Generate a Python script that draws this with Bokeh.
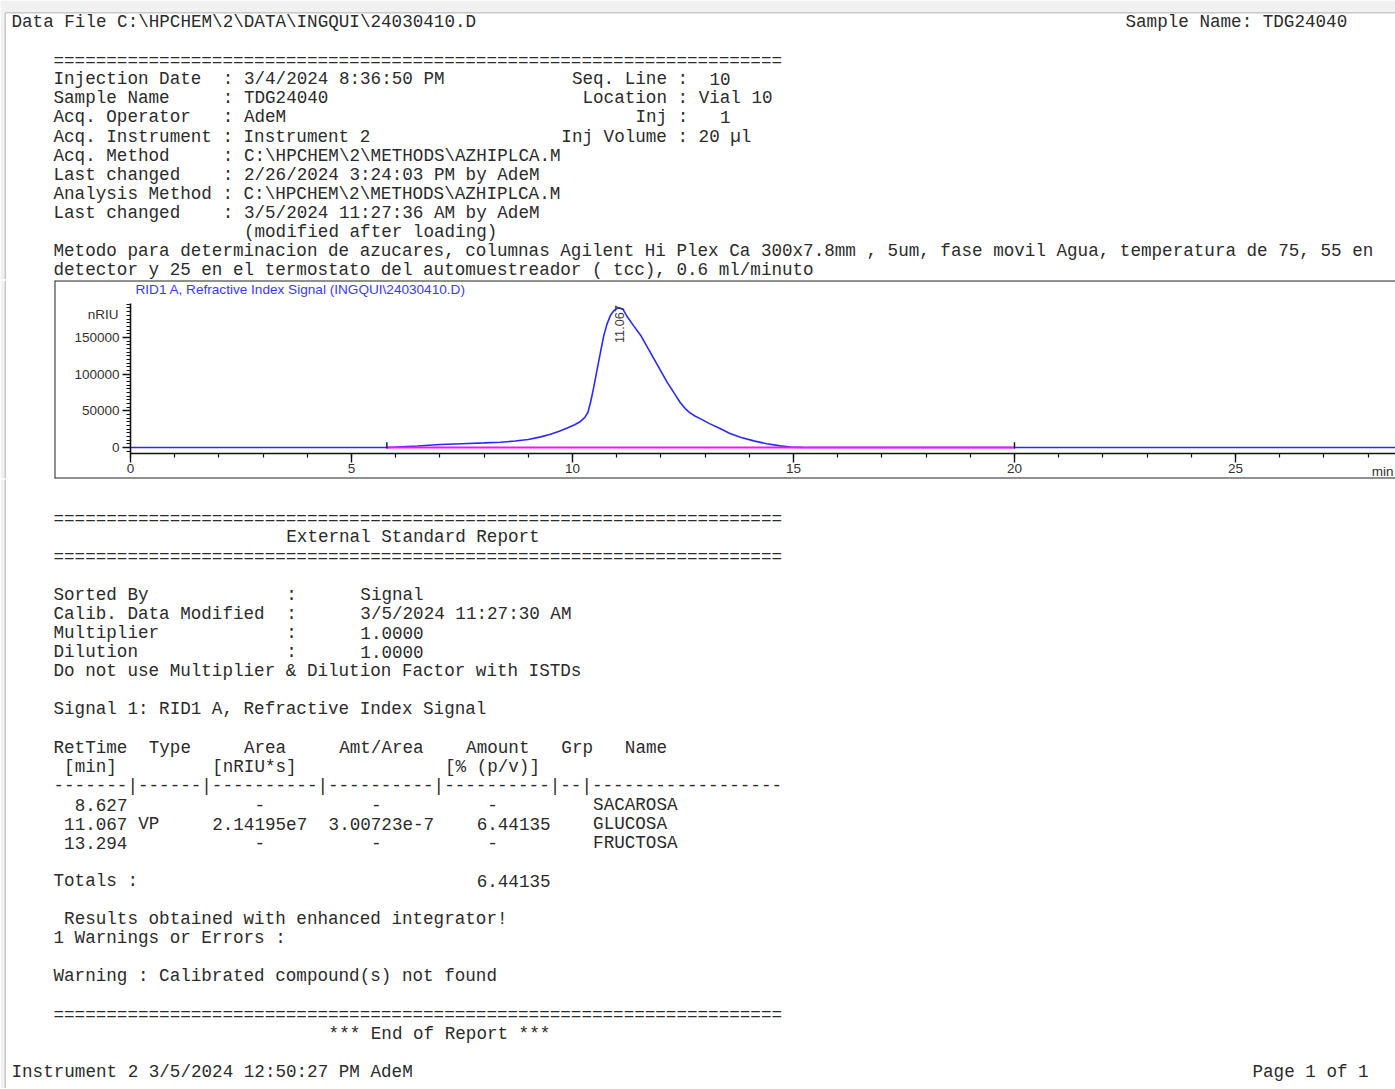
import re
import math
from bokeh.plotting import figure
from bokeh.models import (Range1d, SingleIntervalTicker, Span, Label,
                          BasicTickFormatter)
from bokeh.layouts import column, row
from bokeh.embed import file_html
from bokeh.resources import INLINE
from bokeh.core.properties import value

# ---------------- report data ----------------
data_file = r"C:\HPCHEM\2\DATA\INGQUI\24030410.D"
sample_name = "TDG24040"
injection_date = "3/4/2024 8:36:50 PM"
operator = "AdeM"
instrument = "Instrument 2"
acq_method = r"C:\HPCHEM\2\METHODS\AZHIPLCA.M"
acq_changed = "2/26/2024 3:24:03 PM by AdeM"
analysis_method = r"C:\HPCHEM\2\METHODS\AZHIPLCA.M"
analysis_changed = "3/5/2024 11:27:36 AM by AdeM"
seq_line = "10"
location = "Vial 10"
inj = "1"
inj_volume = "20 µl"
method_note_1 = ("Metodo para determinacion de azucares, columnas Agilent Hi Plex Ca 300x7.8mm , "
                 "5um, fase movil Agua, temperatura de 75, 55 en")
method_note_2 = "detector y 25 en el termostato del automuestreador ( tcc), 0.6 ml/minuto"

calib_modified = "3/5/2024 11:27:30 AM"
multiplier = "1.0000"
dilution = "1.0000"

# peak table
ret_times = ["8.627", "11.067", "13.294"]
peak_types = ["", "VP", ""]
areas = ["-", "2.14195e7", "-"]
amt_per_area = ["-", "3.00723e-7", "-"]
amounts = ["-", "6.44135", "-"]
compound_names = ["SACAROSA", "GLUCOSA", "FRUCTOSA"]
total_amount = "6.44135"
printed = "Instrument 2 3/5/2024 12:50:27 PM AdeM"
signal_title = "RID1 A, Refractive Index Signal (INGQUI\\24030410.D)"
y_unit = "nRIU"
x_unit = "min"

# chromatogram (RID1 A, nRIU vs min)
time_min = [0, 4.4, 5.8, 6.0, 6.5, 7.0, 7.5, 8.0, 8.37, 8.7, 9.0, 9.28, 9.5, 9.7,
            9.88, 10.05, 10.18, 10.28, 10.35, 10.41, 10.48, 10.56, 10.64, 10.71,
            10.78, 10.86, 10.94, 11.01, 11.07, 11.14, 11.24, 11.38, 11.54, 11.69,
            11.84, 11.99, 12.14, 12.3, 12.44, 12.55, 12.65, 12.78, 12.9, 13.1,
            13.35, 13.55, 13.8, 14.1, 14.4, 14.7, 14.93, 15.2, 15.5, 17.0, 20.0,
            25.0, 30.0]
signal_nriu = [0, 0, 0, 500, 2000, 4100, 5200, 6300, 7200, 8800, 11000, 14500, 18000,
               22000, 26500, 31000, 35500, 41000, 48000, 62000, 82000, 107000,
               132000, 153000, 168000, 180000, 186500, 189500, 190000, 188500,
               178000, 166000, 153000, 137000, 121000, 105000, 89000, 74000, 61000,
               53000, 47500, 42500, 39000, 32500, 25500, 19500, 14000, 9000, 5000,
               2200, 500, 150, 0, 0, 0, 0, 0]
baseline_start = 5.8
baseline_end = 20.0
peak_rt = 11.067

# ---------------- styling ----------------
MONO = "Liberation Mono"
SANS = "Liberation Sans"
CW = 10.58          # monospace character advance (px)
X0 = 53             # left text column (px)
TXT = "#2b2b2b"
W = 1395
PAGE_BG = "#f1f1f1"
PAGE_EDGE = "#c8c8c8"


def seg_collect(store, line, y, x0=X0):
    """Split a fixed-width line into runs and place each at its column."""
    for m in re.finditer(r"\S+(?: \S+)*", line):
        store["x"].append(x0 + m.start() * CW)
        store["y"].append(y)
        store["t"].append(m.group(0))


def text_fig(width, y_top, y_bot):
    p = figure(width=width, height=y_bot - y_top, x_range=Range1d(0, width),
               y_range=Range1d(y_bot, y_top), x_axis_type=None, y_axis_type=None,
               output_backend="svg", toolbar_location=None, min_border=0)
    p.grid.visible = False
    p.outline_line_color = None
    # viewer page edge on the left
    p.quad(left=[0], right=[4.5], top=[y_top], bottom=[y_bot], fill_color=PAGE_BG,
           line_color=None)
    p.segment(x0=[4.8], x1=[4.8], y0=[max(y_top, 12)], y1=[y_bot],
              line_color=PAGE_EDGE, line_width=1.5)
    return p


def draw_store(p, store, size="17.6px"):
    p.text(x=store["x"], y=store["y"], text=store["t"], text_font=value(MONO),
           text_font_size=size, text_color=TXT, text_baseline="middle",
           text_align="left")


EQ = "=" * 69

# ---------------- top text ----------------
top = text_fig(W, 0, 279)
top.quad(left=[0], right=[W], top=[0], bottom=[12], fill_color=PAGE_BG, line_color=None)
top.segment(x0=[4.8], x1=[W], y0=[12.3], y1=[12.3], line_color=PAGE_EDGE, line_width=1.5)
s = {"x": [], "y": [], "t": []}
seg_collect(s, "Data File " + data_file, 21, x0=11)
seg_collect(s, "Sample Name: " + sample_name, 21, x0=1125)
lines_top = [
    EQ,
    ("Injection Date  : " + injection_date).ljust(49) + "Seq. Line :  " + seq_line,
    ("Sample Name     : " + sample_name).ljust(50) + "Location : " + location,
    ("Acq. Operator   : " + operator).ljust(55) + "Inj :   " + inj,
    ("Acq. Instrument : " + instrument).ljust(48) + "Inj Volume : " + inj_volume,
    "Acq. Method     : " + acq_method,
    "Last changed    : " + acq_changed,
    "Analysis Method : " + analysis_method,
    "Last changed    : " + analysis_changed,
    "                  (modified after loading)",
    method_note_1,
    method_note_2,
]
ys_top = [60, 78, 97, 116, 136, 155, 174, 193, 212, 231, 250, 269]
for ln, yy in zip(lines_top, ys_top):
    seg_collect(s, ln, yy)
draw_store(top, s)

# ---------------- chromatogram ----------------
side = text_fig(53, 279, 479)

PX_T = 44.2         # px per minute
PX_V = 1362.0       # nRIU per px
x_rng = Range1d((54 - 130) / PX_T, (W - 130) / PX_T)
y_rng = Range1d((447 - 478) * PX_V, (447 - 280) * PX_V)
chrom = figure(width=W - 53, height=200, x_range=x_rng, y_range=y_rng,
               output_backend="svg", toolbar_location=None,
               min_border_left=1, min_border_top=1, min_border_bottom=1,
               min_border_right=0)
chrom.grid.visible = False
chrom.outline_line_color = None
x_axis_pos = (447 - 453) * PX_V

xa = chrom.xaxis[0]
xa.fixed_location = x_axis_pos
xa.ticker = SingleIntervalTicker(interval=5, num_minor_ticks=5)
xa.bounds = (0, 30)
xa.major_tick_out = 9
xa.major_tick_in = 0
xa.minor_tick_out = 4
xa.minor_tick_in = 0
xa.major_label_standoff = 1
ya = chrom.yaxis[0]
ya.fixed_location = 0
ya.ticker = SingleIntervalTicker(interval=50000, num_minor_ticks=10)
ya.formatter = BasicTickFormatter(use_scientific=False)
ya.bounds = (x_axis_pos, 196000)
ya.major_tick_out = 8
ya.major_tick_in = 0
ya.minor_tick_out = 4
ya.minor_tick_in = 0
ya.major_label_standoff = 3
for ax in (xa, ya):
    ax.axis_line_width = 1.6
    ax.axis_line_color = "#111111"
    ax.major_tick_line_color = "#111111"
    ax.minor_tick_line_color = "#111111"
    ax.major_tick_line_width = 1.4
    ax.minor_tick_line_width = 1.2
    ax.major_label_text_font = SANS
    ax.major_label_text_font_size = "13.5px"
    ax.major_label_text_color = "#333333"

chrom.line(time_min, signal_nriu, line_color="#2a2aff", line_width=1.6)
chrom.line([baseline_start, baseline_end], [0, 0], line_color="#ff10ff", line_width=2)
chrom.segment(x0=[baseline_start, baseline_end], x1=[baseline_start, baseline_end],
              y0=[-1500, -1500], y1=[7000, 7000], line_color="#111111", line_width=1.4)

for loc, dim in ((x_rng.start, "height"), (y_rng.end, "width"), (y_rng.start, "width")):
    chrom.add_layout(Span(location=loc, dimension=dim, line_color="#222222", line_width=2))

chrom.add_layout(Label(x=0, y=215000, x_offset=5, text=signal_title,
                       text_font=SANS, text_font_size="13.6px", text_color="#3a3aff",
                       text_baseline="middle", text_align="left"))
chrom.add_layout(Label(x=0, y=181000, x_offset=-12, text=y_unit, text_font=SANS,
                       text_font_size="13.5px", text_color="#333333",
                       text_baseline="middle", text_align="right"))
chrom.add_layout(Label(x=x_rng.end, y=x_axis_pos, x_offset=-2, y_offset=-18,
                       text=x_unit, text_font=SANS, text_font_size="13.5px",
                       text_color="#333333", text_baseline="middle", text_align="right"))
chrom.add_layout(Label(x=peak_rt, y=max(signal_nriu), y_offset=-35, text=ret_times[1],
                       angle=math.pi / 2, text_font=SANS, text_font_size="12.7px",
                       text_color="#333333", text_baseline="middle", text_align="left"))

# ---------------- bottom text ----------------
bot = text_fig(W, 479, 1088)
b = {"x": [], "y": [], "t": []}
seg_collect(b, EQ, 518)
seg_collect(b, " " * 22 + "External Standard Report", 536)
seg_collect(b, EQ, 556)
seg_collect(b, "Sorted By".ljust(22) + ":      Signal", 594)
seg_collect(b, "Calib. Data Modified".ljust(22) + ":      " + calib_modified, 613)
seg_collect(b, "Multiplier".ljust(22) + ":      " + multiplier, 632)
seg_collect(b, "Dilution".ljust(22) + ":      " + dilution, 651)
seg_collect(b, "Do not use Multiplier & Dilution Factor with ISTDs", 670)
seg_collect(b, "Signal 1: RID1 A, Refractive Index Signal", 708)

hdr = [("RetTime", 0), ("Type", 9), ("Area", 18), ("Amt/Area", 27), ("Amount", 39),
       ("Grp", 48), ("Name", 54)]
for t, c in hdr:
    seg_collect(b, " " * c + t, 747)
for t, c in [("[min]", 1), ("[nRIU*s]", 15), ("[% (p/v)]", 37)]:
    seg_collect(b, " " * c + t, 766)
seg_collect(b, "-------|------|----------|----------|----------|--|------------------", 785)

row_ys = [804, 823, 842]
for i, yy in enumerate(row_ys):
    seg_collect(b, ret_times[i].rjust(7), yy)
    if peak_types[i]:
        seg_collect(b, " " * 8 + peak_types[i], yy)
    ar = areas[i] if areas[i] != "-" else "    -"
    seg_collect(b, " " * 15 + ar, yy)
    aa = amt_per_area[i] if amt_per_area[i] != "-" else "    -"
    seg_collect(b, " " * 26 + aa, yy)
    am = amounts[i] if amounts[i] != "-" else " -"
    seg_collect(b, " " * 40 + am, yy)
    seg_collect(b, " " * 51 + compound_names[i], yy)

seg_collect(b, "Totals :", 880)
seg_collect(b, " " * 40 + total_amount, 880)
seg_collect(b, " Results obtained with enhanced integrator!", 918)
seg_collect(b, "1 Warnings or Errors :", 937)
seg_collect(b, "Warning : Calibrated compound(s) not found", 975)
seg_collect(b, EQ, 1014)
seg_collect(b, " " * 26 + "*** End of Report ***", 1033)
seg_collect(b, printed, 1071, x0=11)
seg_collect(b, "Page 1 of 1", 1071, x0=1252)
draw_store(bot, b)

layout = column(top, row(side, chrom, spacing=0), bot, spacing=0)
open("out.html", "w").write(file_html(layout, INLINE))
